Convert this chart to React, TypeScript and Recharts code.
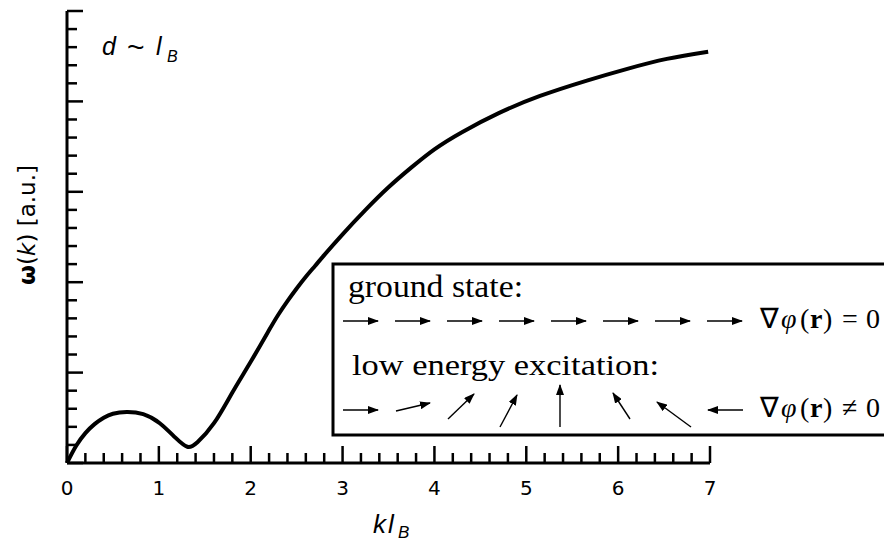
import React from 'react';
import { LineChart, Line, XAxis, YAxis, Customized } from 'recharts';

// dispersion omega(k), k in units of 1/l_B
const kValues = [
  0, 0.1, 0.2, 0.3, 0.4, 0.5, 0.65, 0.83, 1.01, 1.18, 1.31, 1.42, 1.6, 1.8, 2.0, 2.2, 2.3,
  2.4, 2.5, 2.6, 2.7, 2.8, 3.0, 3.25, 3.5, 3.75, 4.0, 4.3, 4.7, 5.15, 5.66, 6.1, 6.53, 6.98,
];
const omegaValues = [
  0, 0.19, 0.33, 0.43, 0.5, 0.545, 0.565, 0.54, 0.44, 0.28, 0.18, 0.23, 0.44, 0.78, 1.12,
  1.47, 1.64, 1.79, 1.93, 2.06, 2.18, 2.3, 2.53, 2.8, 3.05, 3.27, 3.47, 3.66, 3.87, 4.06,
  4.23, 4.36, 4.47, 4.55,
];

const xMajorTicks = [0, 1, 2, 3, 4, 5, 6, 7];
const yMajorTicks = [0, 1, 2, 3, 4, 5];

// five subdivisions between every pair of major ticks
const withMinor = (majors: number[]) => {
  const out: number[] = [];
  for (let i = 0; i < majors.length - 1; i++) {
    for (let j = 0; j < 5; j++) out.push(Math.round((majors[i] + j * 0.2) * 10) / 10);
  }
  out.push(majors[majors.length - 1]);
  return out;
};

const xTicks = withMinor(xMajorTicks);
const yTicks = withMinor(yMajorTicks);

const data = kValues.map((k, i) => ({ k, omega: omegaValues[i] }));

const isMajor = (v: number) => Math.abs(v - Math.round(v)) < 1e-6;

const SANS = '"Liberation Sans", Arial, sans-serif';
const SERIF = '"Liberation Serif", "Times New Roman", serif';

const XTick = (props: any) => {
  const { x, y, payload } = props;
  const major = isMajor(payload.value);
  return (
    <g>
      <line x1={x} x2={x} y1={y} y2={y - (major ? 17 : 10)} stroke="#000" strokeWidth={2.5} />
      {major && (
        <text x={x} y={y + 32} textAnchor="middle" fontFamily='"DejaVu Sans", sans-serif' fontSize={20} fill="#000">
          {payload.value}
        </text>
      )}
    </g>
  );
};

const YTick = (props: any) => {
  const { x, y, payload } = props;
  const major = isMajor(payload.value);
  return <line x1={x} x2={x + (major ? 16 : 10)} y1={y} y2={y} stroke="#000" strokeWidth={2.5} />;
};

const Arrow = ({ x1, y1, x2, y2 }: { x1: number; y1: number; x2: number; y2: number }) => (
  <line x1={x1} y1={y1} x2={x2} y2={y2} stroke="#000" strokeWidth={1.4} markerEnd="url(#spinHead)" />
);

const Gradient = ({ y, rel }: { y: number; rel: string }) => (
  <text y={y} fontFamily={SERIF} fontSize={28} fill="#000">
    <tspan x={760}>∇</tspan>
    <tspan x={781} fontStyle="italic">φ</tspan>
    <tspan x={800}>(</tspan>
    <tspan x={810} fontWeight="bold">r</tspan>
    <tspan x={823}>)</tspan>
    <tspan x={842}>{rel}</tspan>
    <tspan x={866}>0</tspan>
  </text>
);

const Annotations = () => {
  // ground state: all spins aligned
  const groundTails = [343, 395, 447, 499, 551, 603, 655, 707];
  // low energy excitation: slowly rotating spins
  const excited = [
    [343, 410, 378, 410],
    [396, 411, 430, 403],
    [448, 419, 474, 394],
    [500, 427, 517, 395],
    [560, 427, 560, 385],
    [630, 419, 613, 393],
    [691, 427, 657, 402],
    [743, 410, 708, 410],
  ];
  return (
    <g>
      <defs>
        <marker id="spinHead" markerUnits="userSpaceOnUse" markerWidth={11} markerHeight={8} refX={10} refY={4} orient="auto">
          <path d="M0,0 L11,4 L0,8 z" fill="#000" />
        </marker>
      </defs>

      <text fontFamily={SANS} fontStyle="italic" fontSize={25} fill="#000" y={55}>
        <tspan x={102}>d</tspan>
        <tspan x={127} fontStyle="normal" fontSize={30} y={57}>~</tspan>
        <tspan x={156} y={55}>l</tspan>
        <tspan x={167} y={62} fontSize={16}>B</tspan>
      </text>

      <text
        x={27}
        y={225}
        transform="rotate(-90 27 225)"
        textAnchor="middle"
        dominantBaseline="central"
        fontFamily='"DejaVu Sans", sans-serif'
        fontSize={23}
        fill="#000"
      >
        <tspan fontWeight="bold">ω</tspan>(<tspan fontStyle="italic">k</tspan>) [a.u.]
      </text>

      <text fontFamily={SANS} fontStyle="italic" fontSize={26} fill="#000" y={533}>
        <tspan x={373}>k</tspan>
        <tspan x={388}>l</tspan>
        <tspan x={398} y={538} fontSize={17}>B</tspan>
      </text>

      <rect x={333} y={264} width={600} height={171} fill="#fff" stroke="#000" strokeWidth={3} />

      <text x={348} y={297} fontFamily={SERIF} fontSize={31} fill="#000" textLength={175} lengthAdjust="spacingAndGlyphs">
        ground state:
      </text>
      {groundTails.map((t) => (
        <Arrow key={t} x1={t} y1={321} x2={t + 35} y2={321} />
      ))}
      <Gradient y={328} rel="=" />

      <text x={352} y={375} fontFamily={SERIF} fontSize={30} fill="#000" textLength={307} lengthAdjust="spacingAndGlyphs">
        low energy excitation:
      </text>
      {excited.map(([a, b, c, d], i) => (
        <Arrow key={i} x1={a} y1={b} x2={c} y2={d} />
      ))}
      <Gradient y={417} rel="≠" />
    </g>
  );
};

export default function App() {
  return (
    <div style={{ position: 'absolute', left: 0, top: 0, width: 884, height: 542, background: '#fff' }}>
      <LineChart width={884} height={542} data={data} margin={{ top: 11, right: 174, bottom: 0, left: 0 }}>
        <XAxis
          type="number"
          dataKey="k"
          domain={[0, 7]}
          ticks={xTicks}
          interval={0}
          height={79}
          tickSize={0}
          tickMargin={0}
          tickLine={false}
          axisLine={{ stroke: '#000', strokeWidth: 3 }}
          tick={(p: any) => <XTick {...p} />}
        />
        <YAxis
          type="number"
          domain={[0, 5]}
          ticks={yTicks}
          interval={0}
          width={67}
          tickSize={0}
          tickMargin={0}
          tickLine={false}
          axisLine={{ stroke: '#000', strokeWidth: 3 }}
          tick={(p: any) => <YTick {...p} />}
        />
        <Line
          type="natural"
          dataKey="omega"
          stroke="#000"
          strokeWidth={4}
          dot={false}
          isAnimationActive={false}
        />
        <Customized component={Annotations} />
      </LineChart>
    </div>
  );
}
